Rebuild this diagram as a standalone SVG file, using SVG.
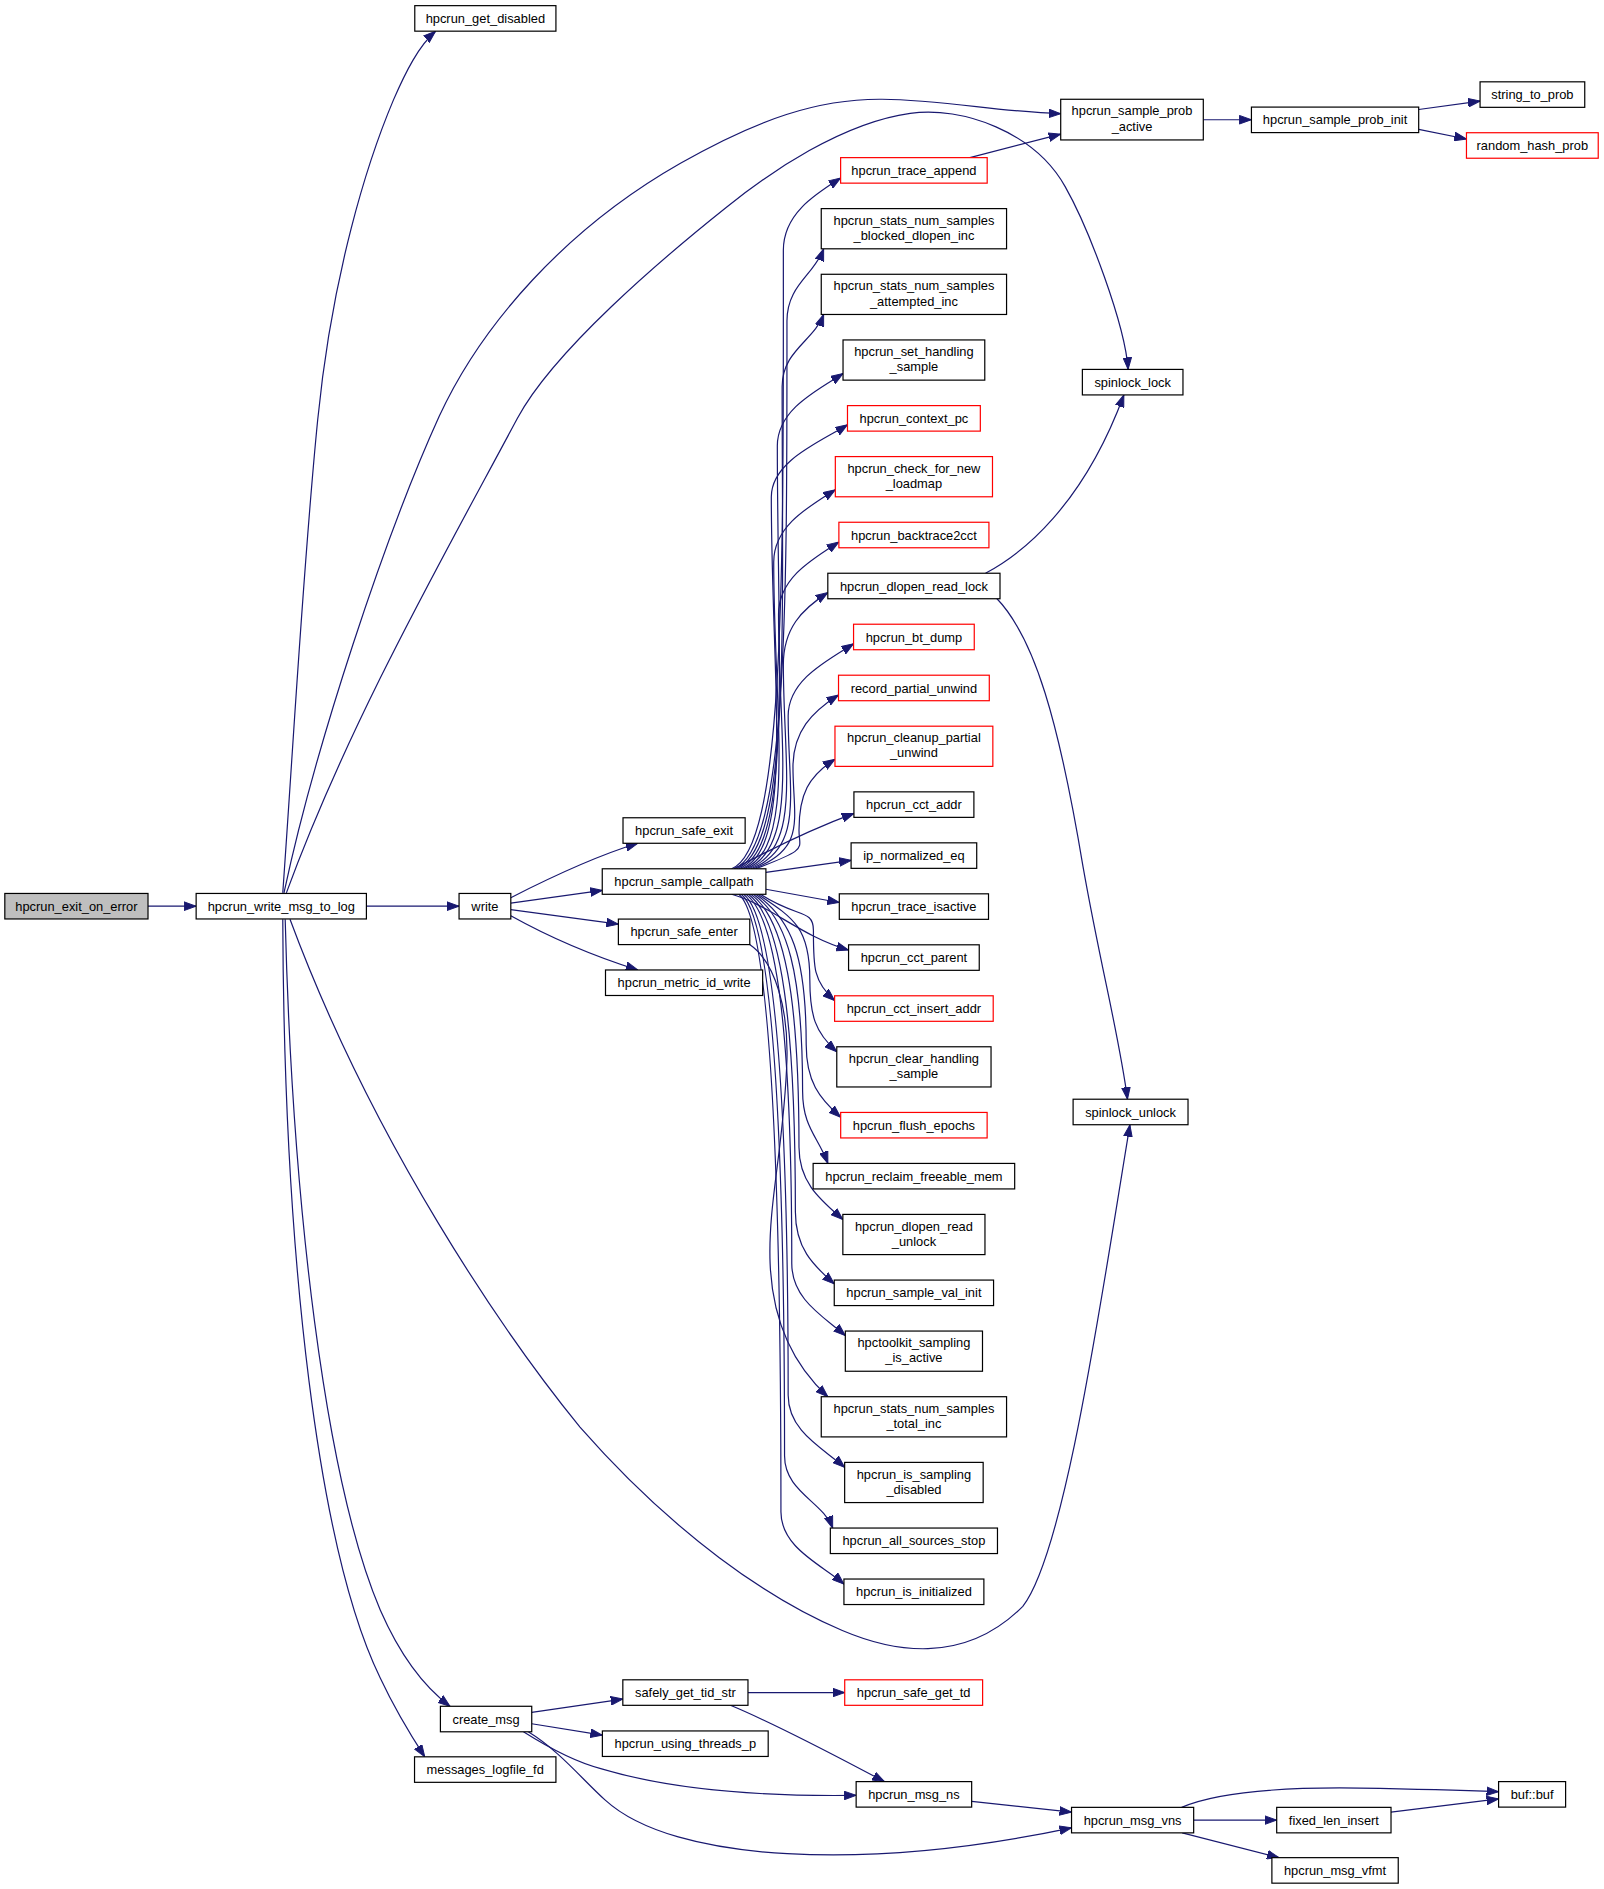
<svg xmlns="http://www.w3.org/2000/svg" width="1604" height="1889" viewBox="0 0 1604 1889">
<defs>
<marker id="ah" viewBox="0 0 10 8" refX="10" refY="4" markerWidth="10" markerHeight="8" markerUnits="userSpaceOnUse" orient="auto">
<path d="M0,0.4 L10,4 L0,7.6 z" fill="#191970" stroke="#191970" stroke-width="0.8"/>
</marker>
<style>
.n rect{fill:#fff;stroke:#000;stroke-width:1}
.r rect{stroke:#f00}
.g rect{fill:#bfbfbf}
text{font-family:"Liberation Sans",Arial,Helvetica,sans-serif;font-size:10.7px;text-anchor:middle;fill:#000}
#edges path{fill:none;stroke:#191970;stroke-width:1}
</style>
</defs>
<rect width="1604" height="1889" fill="#fff"/>
<g transform="scale(1.2033)">
<g id="edges" marker-end="url(#ah)">
<path d="M123,753.1 L163,753.1"/>
<path d="M304.5,753.1 L381.5,753.1"/>
<path d="M235,742 C245,600 252,470 264,349 C276,228 305,135 327,83 C337,60 348,38 362,26"/>
<path d="M236,742 C262,620 320,445 365,346 C400,270 470,190 565.5,135.7 C630,99 680,82 733,82.5 C785,83 830,93 881.5,94.5"/>
<path d="M238,742 C290,600 370,460 430,347.6 C460,291.6 550,215 604,172 C640,143 700,102 756.4,94.2 C800,88 860,110 885.2,155.1 C905,190 935,270 937.5,307"/>
<path d="M241,764 C310,950 420,1110 482,1186 C560,1275 640,1330 700,1355 C740,1372 800,1385 850,1335 C885,1290 915,1080 939,934.8"/>
<path d="M237,764 C243,1000 270,1230 316,1338 C330,1370 350,1400 374,1418"/>
<path d="M235,764 C236,1050 265,1290 316,1394.5 C328,1420 340,1440 353,1460"/>
<path d="M424.5,746 C450,733 490,713 530,700.8"/>
<path d="M424.5,750.5 L500.5,740"/>
<path d="M424.5,756 L513.9,768"/>
<path d="M424.5,761 C455,778 495,795 530,806.1"/>
<path d="M608,722 C653,705 651,465 651,208 C651,178 676.6,162 698.6,148"/>
<path d="M610,722 C655,705 654,494.4 654,266.8 C654,236.8 676.5,228.8 684.5,206.8"/>
<path d="M612,722 C657,705 650,521.7 650,321.3 C650,291.3 676.5,283.3 684.5,261.3"/>
<path d="M614,722 C659,705 646,546.3 646,370.5 C646,340.5 678.6,324.5 700.6,310.5"/>
<path d="M616,722 C661,705 641,567.5 641,413 C641,383 682.3,367 704.3,353"/>
<path d="M618,722 C663,705 643,594.5 643,467 C643,437 672.2,421 694.2,407"/>
<path d="M620,722 C665,705 647,616.3 647,510.5 C647,480.5 675.15,464.5 697.15,450.5"/>
<path d="M622,722 C667,705 651,637.3 651,552.5 C651,522.5 666,506.5 688,492.5"/>
<path d="M624,722 C669,705 655,658.5 655,595 C655,565 687.35,549 709.35,535"/>
<path d="M626,722 C671,705 659,679.8 659,637.5 C659,607.5 674.85,591.5 696.85,577.5"/>
<path d="M628,722 C673,705 664,706 664,690 C664,660 671.9,645 693.9,631"/>
<path d="M610,722 C640,706 672,690 709.65,676"/>
<path d="M636.5,725 L707.3,715"/>
<path d="M636.5,739 L697.5,750"/>
<path d="M608,743.2 C640,752 665,778 705.2,789.5"/>
<path d="M632,743.2 C662.8,763.2 676,755.2 676,773.2 C676,803.2 675.6,815.5 693.6,831.5"/>
<path d="M630,743.2 C660.1,763.2 673,771.5 673,814 C673,844 677.4,858 695.4,874"/>
<path d="M628,743.2 C657.4,763.2 670,793.3 670,868.5 C670,898.5 680.65,912.5 698.65,928.5"/>
<path d="M626,743.2 C654.7,763.2 667,808.7 667,906.86 C667,936.86 680,944.86 688,966.86"/>
<path d="M624,743.2 C652,763.2 664,827.3 664,953.5 C664,983.5 682.45,997.5 700.45,1013.5"/>
<path d="M622,743.2 C649.3,763.2 661,848.7 661,1007 C661,1037 675.3,1051 693.3,1067"/>
<path d="M620,743.2 C646.6,763.2 658,865.9 658,1050 C658,1080 684.5,1094 702.5,1110"/>
<path d="M618,743.2 C643.9,763.2 655,909.7 655,1159.5 C655,1189.5 683.95,1203.5 701.95,1219.5"/>
<path d="M616,743.2 C641.2,763.2 652,929.9 652,1209.88 C652,1239.88 684,1247.88 692,1269.88"/>
<path d="M614,743.2 C638.5,763.2 649,948.5 649,1256.5 C649,1286.5 683.35,1300.5 701.35,1316.5"/>
<path d="M623,785 C645,800 655,840 654,880 C652,950 638,1000 640,1050 C642,1100 660,1135 688,1160.74"/>
<path d="M806,131 L881.5,111.5"/>
<path d="M1000,99.5 L1040,99.5"/>
<path d="M1179,91 L1230,84"/>
<path d="M1179,107.5 L1218.7,115.5"/>
<path d="M819,476.4 C850,460 900,420 934,328.2"/>
<path d="M828,497 C860,530 880,600 900,720 C915,805 930,860 937,913.5"/>
<path d="M441.9,1423 L517.6,1412"/>
<path d="M441.9,1432.5 L500.6,1442"/>
<path d="M435,1439.2 C460,1455 480,1465 500,1470 C560,1488 640,1493 711.5,1492"/>
<path d="M439,1439.2 C465,1455 485,1480 503,1496 C560,1548 720,1555 890.5,1519"/>
<path d="M621.6,1406.6 L702,1406.6"/>
<path d="M607,1417.2 C650,1435 705,1465 735,1480.6"/>
<path d="M807.5,1497 L890.5,1506"/>
<path d="M982,1502 C1010,1490 1060,1485 1130,1486 C1190,1487 1220,1488 1245.4,1489"/>
<path d="M1156,1506 L1245.4,1495"/>
<path d="M992,1512.6 L1061,1512.6"/>
<path d="M982.5,1523.2 L1063,1543.8"/>
</g>
<g id="n_exit" class="n g"><rect x="4" y="742.5" width="119" height="21.2"/><text x="63.5" y="756.9">hpcrun_exit_on_error</text></g>
<g id="n_wmsg" class="n"><rect x="163" y="742.5" width="141.5" height="21.2"/><text x="233.75" y="756.9">hpcrun_write_msg_to_log</text></g>
<g id="n_write" class="n"><rect x="381.5" y="742.5" width="43" height="21.2"/><text x="403" y="756.9">write</text></g>
<g id="n_getdis" class="n"><rect x="344.7" y="4.7" width="117.3" height="21.2"/><text x="403.35" y="19.1">hpcrun_get_disabled</text></g>
<g id="n_spa" class="n"><rect x="881.5" y="82.5" width="118.5" height="33.8"/><text x="940.75" y="95.9">hpcrun_sample_prob</text><text x="940.75" y="108.5">_active</text></g>
<g id="n_spi" class="n"><rect x="1040" y="89" width="139" height="21.2"/><text x="1109.5" y="103.4">hpcrun_sample_prob_init</text></g>
<g id="n_stp" class="n"><rect x="1230" y="68" width="87" height="21.2"/><text x="1273.5" y="82.4">string_to_prob</text></g>
<g id="n_rhp" class="n r"><rect x="1218.7" y="110.3" width="109.5" height="21.2"/><text x="1273.45" y="124.7">random_hash_prob</text></g>
<g id="n_ta" class="n r"><rect x="698.6" y="131" width="121.8" height="21.2"/><text x="759.5" y="145.4">hpcrun_trace_append</text></g>
<g id="n_sb" class="n"><rect x="682.5" y="173.37" width="154" height="33.4"/><text x="759.5" y="186.77">hpcrun_stats_num_samples</text><text x="759.5" y="199.37">_blocked_dlopen_inc</text></g>
<g id="n_sa" class="n"><rect x="682.5" y="227.94" width="154" height="33.4"/><text x="759.5" y="241.34">hpcrun_stats_num_samples</text><text x="759.5" y="253.94">_attempted_inc</text></g>
<g id="n_sh" class="n"><rect x="700.6" y="282.51" width="117.8" height="33.4"/><text x="759.5" y="295.91">hpcrun_set_handling</text><text x="759.5" y="308.51">_sample</text></g>
<g id="n_cpc" class="n r"><rect x="704.3" y="337.08" width="110.4" height="21.2"/><text x="759.5" y="351.48">hpcrun_context_pc</text></g>
<g id="n_cnl" class="n r"><rect x="694.2" y="379.45" width="130.6" height="33.4"/><text x="759.5" y="392.85">hpcrun_check_for_new</text><text x="759.5" y="405.45">_loadmap</text></g>
<g id="n_b2c" class="n r"><rect x="697.15" y="434.02" width="124.7" height="21.2"/><text x="759.5" y="448.42">hpcrun_backtrace2cct</text></g>
<g id="n_drl" class="n"><rect x="687.95" y="476.39" width="143.1" height="21.2"/><text x="759.5" y="490.79">hpcrun_dlopen_read_lock</text></g>
<g id="n_btd" class="n r"><rect x="709.35" y="518.76" width="100.3" height="21.2"/><text x="759.5" y="533.16">hpcrun_bt_dump</text></g>
<g id="n_rpu" class="n r"><rect x="696.85" y="561.13" width="125.3" height="21.2"/><text x="759.5" y="575.53">record_partial_unwind</text></g>
<g id="n_cpu" class="n r"><rect x="693.9" y="603.5" width="131.2" height="33.4"/><text x="759.5" y="616.9">hpcrun_cleanup_partial</text><text x="759.5" y="629.5">_unwind</text></g>
<g id="n_cca" class="n"><rect x="709.65" y="658.07" width="99.7" height="21.2"/><text x="759.5" y="672.47">hpcrun_cct_addr</text></g>
<g id="n_ipn" class="n"><rect x="707.3" y="700.44" width="104.4" height="21.2"/><text x="759.5" y="714.84">ip_normalized_eq</text></g>
<g id="n_tia" class="n"><rect x="697.5" y="742.81" width="124" height="21.2"/><text x="759.5" y="757.21">hpcrun_trace_isactive</text></g>
<g id="n_ccp" class="n"><rect x="705.2" y="785.18" width="108.6" height="21.2"/><text x="759.5" y="799.58">hpcrun_cct_parent</text></g>
<g id="n_cci" class="n r"><rect x="693.6" y="827.55" width="131.8" height="21.2"/><text x="759.5" y="841.95">hpcrun_cct_insert_addr</text></g>
<g id="n_chs" class="n"><rect x="695.4" y="869.92" width="128.2" height="33.4"/><text x="759.5" y="883.32">hpcrun_clear_handling</text><text x="759.5" y="895.92">_sample</text></g>
<g id="n_fe" class="n r"><rect x="698.65" y="924.49" width="121.7" height="21.2"/><text x="759.5" y="938.89">hpcrun_flush_epochs</text></g>
<g id="n_rfm" class="n"><rect x="675.75" y="966.86" width="167.5" height="21.2"/><text x="759.5" y="981.26">hpcrun_reclaim_freeable_mem</text></g>
<g id="n_dru" class="n"><rect x="700.45" y="1009.23" width="118.1" height="33.4"/><text x="759.5" y="1022.63">hpcrun_dlopen_read</text><text x="759.5" y="1035.23">_unlock</text></g>
<g id="n_svi" class="n"><rect x="693.3" y="1063.8" width="132.4" height="21.2"/><text x="759.5" y="1078.2">hpcrun_sample_val_init</text></g>
<g id="n_hsa" class="n"><rect x="702.5" y="1106.17" width="114" height="33.4"/><text x="759.5" y="1119.57">hpctoolkit_sampling</text><text x="759.5" y="1132.17">_is_active</text></g>
<g id="n_sti" class="n"><rect x="682.5" y="1160.74" width="154" height="33.4"/><text x="759.5" y="1174.14">hpcrun_stats_num_samples</text><text x="759.5" y="1186.74">_total_inc</text></g>
<g id="n_isd" class="n"><rect x="701.95" y="1215.31" width="115.1" height="33.4"/><text x="759.5" y="1228.71">hpcrun_is_sampling</text><text x="759.5" y="1241.31">_disabled</text></g>
<g id="n_ass" class="n"><rect x="690.05" y="1269.88" width="138.9" height="21.2"/><text x="759.5" y="1284.28">hpcrun_all_sources_stop</text></g>
<g id="n_ini" class="n"><rect x="701.35" y="1312.25" width="116.3" height="21.2"/><text x="759.5" y="1326.65">hpcrun_is_initialized</text></g>
<g id="n_sll" class="n"><rect x="899.5" y="307" width="83.6" height="21.2"/><text x="941.3" y="321.4">spinlock_lock</text></g>
<g id="n_slu" class="n"><rect x="891.8" y="913.5" width="95.5" height="21.2"/><text x="939.55" y="927.9">spinlock_unlock</text></g>
<g id="n_sx" class="n"><rect x="517.75" y="679.6" width="101.5" height="21.2"/><text x="568.5" y="694">hpcrun_safe_exit</text></g>
<g id="n_scp" class="n"><rect x="500.5" y="722" width="136" height="21.2"/><text x="568.5" y="736.4">hpcrun_sample_callpath</text></g>
<g id="n_se" class="n"><rect x="513.9" y="763.8" width="109.2" height="21.2"/><text x="568.5" y="778.2">hpcrun_safe_enter</text></g>
<g id="n_mw" class="n"><rect x="503.2" y="806.1" width="130.6" height="21.2"/><text x="568.5" y="820.5">hpcrun_metric_id_write</text></g>
<g id="n_cm" class="n"><rect x="366" y="1418" width="75.9" height="21.2"/><text x="403.95" y="1432.4">create_msg</text></g>
<g id="n_mlf" class="n"><rect x="344.5" y="1460" width="117.5" height="21.2"/><text x="403.25" y="1474.4">messages_logfile_fd</text></g>
<g id="n_sgt" class="n"><rect x="517.6" y="1396" width="104" height="21.2"/><text x="569.6" y="1410.4">safely_get_tid_str</text></g>
<g id="n_utp" class="n"><rect x="500.6" y="1438.5" width="137.8" height="21.2"/><text x="569.5" y="1452.9">hpcrun_using_threads_p</text></g>
<g id="n_sgtd" class="n r"><rect x="702" y="1396" width="114.6" height="21.2"/><text x="759.3" y="1410.4">hpcrun_safe_get_td</text></g>
<g id="n_mns" class="n"><rect x="711.5" y="1480.6" width="96" height="21.2"/><text x="759.5" y="1495">hpcrun_msg_ns</text></g>
<g id="n_mvns" class="n"><rect x="890.5" y="1502" width="101.5" height="21.2"/><text x="941.25" y="1516.4">hpcrun_msg_vns</text></g>
<g id="n_fli" class="n"><rect x="1061" y="1502" width="95" height="21.2"/><text x="1108.5" y="1516.4">fixed_len_insert</text></g>
<g id="n_buf" class="n"><rect x="1245.4" y="1480.6" width="55.7" height="21.2"/><text x="1273.25" y="1495">buf::buf</text></g>
<g id="n_vfmt" class="n"><rect x="1057" y="1543.8" width="105" height="21.2"/><text x="1109.5" y="1558.2">hpcrun_msg_vfmt</text></g>
</g>
</svg>
